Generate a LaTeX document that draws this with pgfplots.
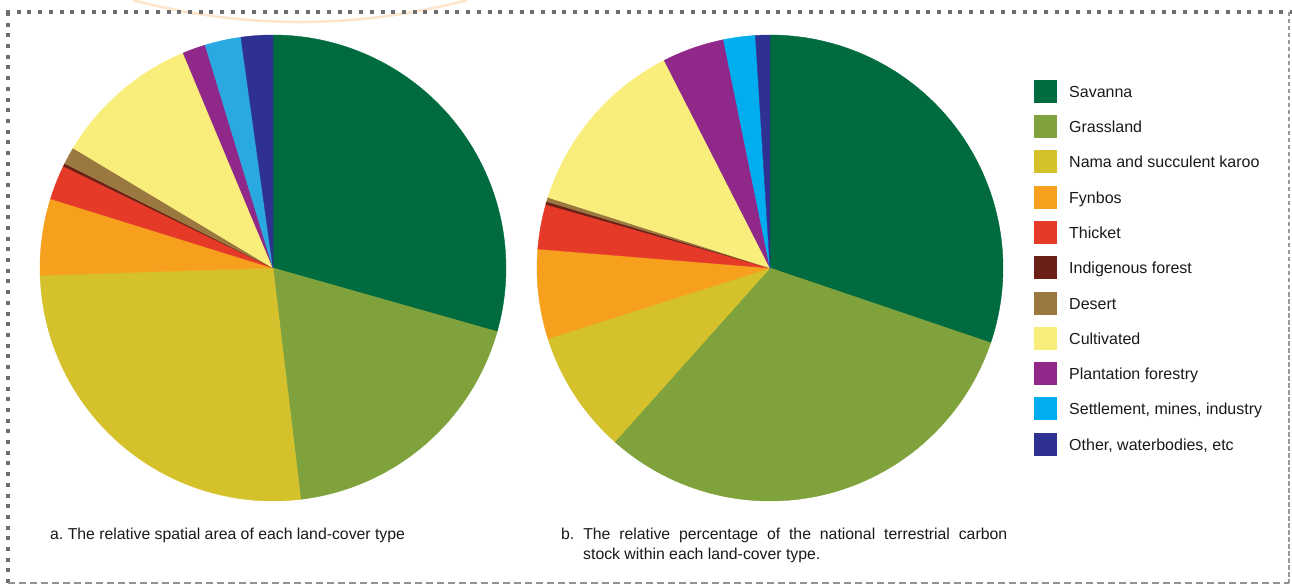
\documentclass[border=0pt]{standalone}
\usepackage{pgfplots}
\pgfplotsset{compat=1.18}
\usepackage{pgfplotstable}
\usepackage{fontspec}
\setmainfont{Liberation Sans}
\frenchspacing

% land-cover colours (pb = legend / carbon pie, pa = area pie)
\definecolor{pb0}{HTML}{006B3F}
\definecolor{pb1}{HTML}{80A23C}
\definecolor{pb2}{HTML}{D4C12B}
\definecolor{pb3}{HTML}{F6A01E}
\definecolor{pb4}{HTML}{E63A28}
\definecolor{pb5}{HTML}{6B2015}
\definecolor{pb6}{HTML}{9B7840}
\definecolor{pb7}{HTML}{F9EE7C}
\definecolor{pb8}{HTML}{8F2889}
\definecolor{pb9}{HTML}{00AEEF}
\definecolor{pb10}{HTML}{2E3191}
\colorlet{pa0}{pb0}\colorlet{pa1}{pb1}\colorlet{pa2}{pb2}\colorlet{pa3}{pb3}
\colorlet{pa4}{pb4}\colorlet{pa5}{pb5}\colorlet{pa6}{pb6}\colorlet{pa7}{pb7}
\colorlet{pa8}{pb8}\definecolor{pa9}{HTML}{2AA9E0}\colorlet{pa10}{pb10}
\definecolor{framegray}{HTML}{6D6E71}
\definecolor{peach}{HTML}{FDE4CA}

% share of each land-cover type (%): spatial area and terrestrial carbon stock
\pgfplotstableread{
id area carbon
0  29.4 30.2
1  18.7 31.4
2  26.4  8.5
3   5.3  6.2
4   2.4  3.1
5   0.2  0.2
6   1.2  0.3
7  10.1 12.6
8   1.6  4.3
9   2.5  2.2
10  2.2  1.0
}\landcover

% start/end angle of every slice, clockwise from 12 o'clock
\newcommand\sliceangles[2]{%
  \gdef\runningsum{0}%
  \foreach \i in {0,...,10}{%
    \pgfplotstablegetelem{\i}{#1}\of\landcover
    \let\share\pgfplotsretval
    \pgfmathsetmacro\startang{90-3.6*\runningsum}%
    \pgfmathsetmacro\newsum{\runningsum+\share}%
    \pgfmathsetmacro\endang{90-3.6*\newsum}%
    \expandafter\xdef\csname #2s\i\endcsname{\startang}%
    \expandafter\xdef\csname #2e\i\endcsname{\endang}%
    \xdef\runningsum{\newsum}%
  }%
}

\newcommand\pie[3]{% #1 centre, #2 angle prefix, #3 colour prefix
  \begin{axis}[at={#1}, anchor=center, scale only axis,
      width=466pt, height=466pt, xmin=-1, xmax=1, ymin=-1, ymax=1,
      hide axis, clip=false]
    \pgfplotsinvokeforeach{0,...,10}{%
      \edef\slice{\noexpand\addplot[fill=#3##1, draw=#3##1, line width=0.4pt,
        domain=\csname #2e##1\endcsname:\csname #2s##1\endcsname, samples=90]
        ({cos(x)},{sin(x)}) -- (axis cs:0,0) -- cycle;}%
      \slice
    }
  \end{axis}%
}

\begin{document}
\sliceangles{area}{A}%
\sliceangles{carbon}{B}%
\begin{tikzpicture}[x=1pt, y=1pt]
  \useasboundingbox (0,0) rectangle (1292,587);

  % decorative arc along the top edge
  \begin{scope}
    \clip (0,0) rectangle (1292,587);
    \draw[peach, line width=2.6pt] (300,1210) ++(-105:645) arc[start angle=-105, end angle=-75, radius=645];
  \end{scope}

  % frame
  \draw[framegray, line width=4pt, dash pattern=on 4pt off 6.7pt] (6,575) -- (1292,575);
  \draw[framegray, line width=4pt, dash pattern=on 4pt off 6.7pt] (8,575) -- (8,4);
  \draw[framegray!70, line width=2pt, dash pattern=on 4.5pt off 2.5pt] (1289,575) -- (1289,4);
  \draw[framegray!75, line width=1.3pt, dash pattern=on 7pt off 4pt] (8,4) -- (1289,4);

  % the two pies
  \pie{(273pt,319pt)}{A}{pa}
  \pie{(770pt,319pt)}{B}{pb}

  % legend
  \foreach \lab [count=\k from 0] in {Savanna, Grassland, Nama and succulent karoo, Fynbos,
      Thicket, Indigenous forest, Desert, Cultivated, Plantation forestry,
      {Settlement, mines, industry}, {Other, waterbodies, etc}}{
    \pgfmathsetmacro\cy{587-(91.4+35.28*\k)}
    \fill[pb\k] (1034,\cy-11.5) rectangle (1057,\cy+11.5);
    \node[anchor=base west, inner sep=0pt, font=\fontsize{16}{19}\selectfont, text=black!90]
      at (1069,\cy-6) {\lab};
  }

  % captions
  \node[anchor=base west, inner sep=0pt, font=\fontsize{15.8}{19}\selectfont, text=black!90]
    at (50,48) {a. The relative spatial area of each land-cover type};
  \node[anchor=base west, inner sep=0pt, font=\fontsize{15.8}{19}\selectfont, text=black!90]
    at (561,48) {\makebox[446pt][s]{b. The relative percentage of the national terrestrial carbon}};
  \node[anchor=base west, inner sep=0pt, font=\fontsize{15.8}{19}\selectfont, text=black!90]
    at (583,28) {stock within each land-cover type.};
\end{tikzpicture}
\end{document}
